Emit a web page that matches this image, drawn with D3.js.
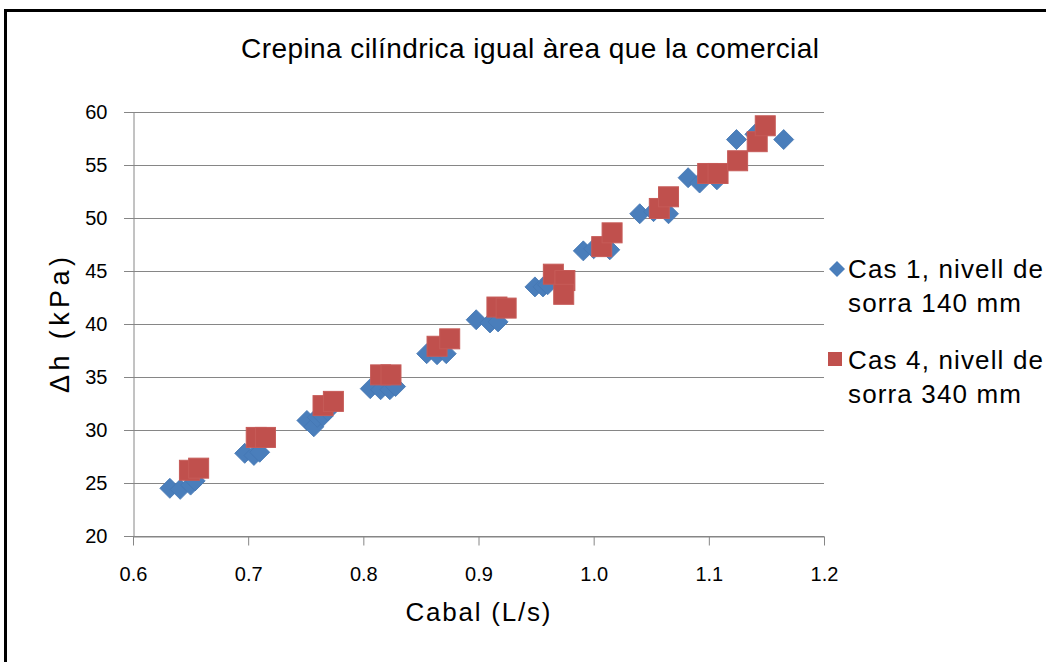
<!DOCTYPE html>
<html>
<head>
<meta charset="utf-8">
<script src="https://cdn.jsdelivr.net/npm/d3@7"></script>
<style>
  body { margin: 0; background: #fff; }
  text { font-family: "Liberation Sans", Arial, sans-serif; fill: #000; }
</style>
</head>
<body>
<div id="chart"></div>
<script>
// data
var cas1X = [0.632, 0.641, 0.650, 0.654, 0.697, 0.705, 0.710,
             0.751, 0.757, 0.760, 0.765, 0.769, 0.806, 0.815, 0.823, 0.828,
             0.855, 0.864, 0.872, 0.898, 0.910, 0.917, 0.949, 0.956, 0.960,
             0.991, 1.000, 1.014, 1.040, 1.052, 1.065, 1.082, 1.092, 1.107,
             1.124, 1.140, 1.165];
var cas1Y = [24.5, 24.4, 24.8, 25.2, 27.8, 27.6, 27.9,
             30.9, 30.3, 31.2, 31.3, 31.8, 33.9, 33.8, 33.8, 34.1,
             37.2, 37.1, 37.2, 40.4, 40.1, 40.2, 43.5, 43.5, 43.7,
             46.9, 47.1, 47.0, 50.4, 50.6, 50.4, 53.8, 53.3, 53.6,
             57.4, 57.9, 57.4];

var cas4X = [0.649, 0.657, 0.707, 0.715, 0.765, 0.774, 0.815, 0.824,
             0.864, 0.875, 0.916, 0.924, 0.965, 0.975, 0.974, 1.007, 1.016,
             1.057, 1.065, 1.099, 1.108, 1.125, 1.142, 1.149];
var cas4Y = [26.2, 26.4, 29.3, 29.3, 32.3, 32.7, 35.2, 35.2,
             37.9, 38.6, 41.6, 41.5, 44.7, 44.1, 42.8, 47.3, 48.6,
             50.9, 52.0, 54.2, 54.2, 55.4, 57.2, 58.7];

var xTicks = [0.6, 0.7, 0.8, 0.9, 1.0, 1.1, 1.2];
var yTicks = [20, 25, 30, 35, 40, 45, 50, 55, 60];

var seriesNames = [["Cas 1, nivell de", "sorra 140 mm"],
                   ["Cas 4, nivell de", "sorra 340 mm"]];

var blue = "#4A7EBB";
var red = "#C0504D";
var gridColor = "#868686";

var W = 1046, H = 662;

var svg = d3.select("#chart")
  .append("svg")
    .attr("width", W)
    .attr("height", H);

svg.append("rect")
  .attr("width", W).attr("height", H)
  .attr("fill", "#fff");

// chart area border (cropped at right and bottom)
svg.append("rect")
  .attr("x", 5.5).attr("y", 10.5)
  .attr("width", W + 20).attr("height", H + 20)
  .attr("fill", "none")
  .attr("stroke", "#000")
  .attr("stroke-width", 3);

var x = d3.scaleLinear().domain([0.6, 1.2]).range([133, 824]);
var y = d3.scaleLinear().domain([20, 60]).range([536, 112]);

// gridlines
svg.append("g")
  .selectAll("line")
  .data(yTicks)
  .enter()
  .append("line")
    .attr("x1", x(0.6) - 9).attr("x2", x(1.2))
    .attr("y1", function(d) { return Math.round(y(d)) + 0.5; })
    .attr("y2", function(d) { return Math.round(y(d)) + 0.5; })
    .attr("stroke", gridColor)
    .attr("stroke-width", 1);

// y axis
var yAxis = svg.append("g")
  .attr("transform", "translate(" + (x(0.6) + 0.5) + ",0)")
  .call(d3.axisLeft(y).tickValues(yTicks).tickSize(0).tickPadding(26));
yAxis.select(".domain").attr("stroke", gridColor);
yAxis.selectAll("text")
  .attr("font-size", 20)
  .attr("font-family", "Liberation Sans, Arial, sans-serif")
  .attr("fill", "#000");

// x axis
var xAxis = svg.append("g")
  .attr("transform", "translate(0," + (Math.round(y(20)) + 0.5) + ")")
  .call(d3.axisBottom(x).tickValues(xTicks).tickSize(9).tickSizeOuter(0)
        .tickPadding(21).tickFormat(d3.format(".1f")));
xAxis.select(".domain").attr("stroke", gridColor);
xAxis.selectAll(".tick line").attr("stroke", gridColor);
xAxis.selectAll("text")
  .attr("font-size", 20)
  .attr("font-family", "Liberation Sans, Arial, sans-serif")
  .attr("fill", "#000");

// Cas 1 diamonds
var diamond = d3.symbol().type(d3.symbolSquare).size(200);
svg.append("g")
  .selectAll("path")
  .data(d3.range(cas1X.length))
  .enter()
  .append("path")
    .attr("d", diamond)
    .attr("transform", function(i) {
      return "translate(" + x(cas1X[i]) + "," + y(cas1Y[i]) + ") rotate(45)";
    })
    .attr("fill", blue)
    .attr("stroke", "#4577B3")
    .attr("stroke-width", 0.8);

// Cas 4 squares
var sq = 20;
svg.append("g")
  .selectAll("rect")
  .data(d3.range(cas4X.length))
  .enter()
  .append("rect")
    .attr("x", function(i) { return x(cas4X[i]) - sq / 2; })
    .attr("y", function(i) { return y(cas4Y[i]) - sq / 2; })
    .attr("width", sq)
    .attr("height", sq)
    .attr("fill", red)
    .attr("stroke", "#C65B58")
    .attr("stroke-width", 1);

// title
svg.append("text")
  .attr("x", 530).attr("y", 58)
  .attr("text-anchor", "middle")
  .attr("font-size", 28)
  .attr("textLength", 578)
  .text("Crepina cilíndrica igual àrea que la comercial");

// axis titles
svg.append("text")
  .attr("x", 478).attr("y", 621)
  .attr("text-anchor", "middle")
  .attr("font-size", 26)
  .attr("textLength", 145)
  .text("Cabal (L/s)");

svg.append("text")
  .attr("transform", "translate(69,325) rotate(-90)")
  .attr("text-anchor", "middle")
  .attr("font-size", 27)
  .attr("textLength", 136)
  .text("Δh (kPa)");

// legend
var legendTop = [278, 369];
var legend = svg.append("g");
legend.append("path")
  .attr("d", d3.symbol().type(d3.symbolSquare).size(128))
  .attr("transform", "translate(837,269) rotate(45)")
  .attr("fill", blue);
legend.append("rect")
  .attr("x", 828).attr("y", 352)
  .attr("width", 14).attr("height", 14)
  .attr("fill", red);

var lineLens = [[195, 173], [195, 173]];
seriesNames.forEach(function(lines, s) {
  lines.forEach(function(t, j) {
    legend.append("text")
      .attr("x", 848)
      .attr("y", legendTop[s] + j * 34)
      .attr("font-size", 26)
      .attr("textLength", lineLens[s][j])
      .text(t);
  });
});
</script>
</body>
</html>
